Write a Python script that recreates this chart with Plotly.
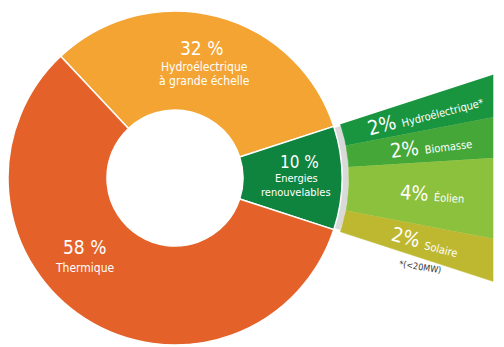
import numpy as np
import plotly.graph_objects as go

# ---------------- data ----------------
main_labels = ["Hydroélectrique à grande échelle", "Energies renouvelables", "Thermique"]
main_values = [32, 10, 58]
main_colors = ["#F4A433", "#0F843F", "#E4622A"]

fan_labels = ["Hydroélectrique*", "Biomasse", "Éolien", "Solaire"]
fan_values = [2, 2, 4, 2]
fan_colors = ["#19953F", "#45A737", "#8CC13D", "#BEB830"]

footnote = "*(<20MW)"

# ---------------- geometry (pixel units) ----------------
W, H = 504, 347
CX, CY = 175, H - 178          # donut centre (y measured upward)
R_OUT, R_IN = 167, 68          # donut radii
GRAY_R0, GRAY_R1 = 167, 173.5  # separator arc
FAN_R0, FAN_X = 174, 318       # fan inner radius / straight outer edge offset
FONT = "Liberation Sans Narrow, DejaVu Sans Condensed, Arial Narrow, Roboto, sans-serif"

total = sum(main_values)
green_span = main_values[1] / total * 360.0
half = green_span / 2.0

fig = go.Figure()

# main donut
hyd_deg = main_values[0] / total * 360.0
fig.add_trace(go.Pie(
    labels=main_labels, values=main_values, sort=False, direction="clockwise",
    rotation=90 - half - hyd_deg, hole=R_IN / R_OUT,
    marker=dict(colors=main_colors, line=dict(color="white", width=1.5)),
    textinfo="none", hoverinfo="label+percent", showlegend=False,
    domain=dict(x=[(CX - R_OUT) / W, (CX + R_OUT) / W],
                y=[(CY - R_OUT) / H, (CY + R_OUT) / H]),
))

# gray separator arc
ga = np.radians(np.linspace(-half + 0.6, half - 0.6, 40))
gx = np.concatenate([CX + GRAY_R0 * np.cos(ga), CX + GRAY_R1 * np.cos(ga[::-1])])
gy = np.concatenate([CY + GRAY_R0 * np.sin(ga), CY + GRAY_R1 * np.sin(ga[::-1])])
fig.add_trace(go.Scatter(x=gx, y=gy, fill="toself", mode="lines",
                         line=dict(width=0, color="#D9D9D9"), fillcolor="#D9D9D9",
                         hoverinfo="skip", showlegend=False))

# fan segments
fan_total = sum(fan_values)
a_top = half
annots = []
for lab, val, col in zip(fan_labels, fan_values, fan_colors):
    span = val / fan_total * green_span
    a_bot = a_top - span
    arc = np.radians(np.linspace(a_top, a_bot, 20))
    xs = list(CX + FAN_R0 * np.cos(arc)) + [CX + FAN_X, CX + FAN_X]
    ys = list(CY + FAN_R0 * np.sin(arc)) + [CY + FAN_X * np.tan(np.radians(a_bot)),
                                             CY + FAN_X * np.tan(np.radians(a_top))]
    fig.add_trace(go.Scatter(x=xs, y=ys, fill="toself", mode="lines",
                             line=dict(width=0.6, color=col), fillcolor=col,
                             name=lab, hoverinfo="name", showlegend=False))
    mid = (a_top + a_bot) / 2.0
    rr = 258
    annots.append(dict(
        x=CX + rr * np.cos(np.radians(mid)), y=CY + rr * np.sin(np.radians(mid)),
        text=f"{val}% <span style='font-size:11px'>{lab}</span>",
        textangle=-mid, font=dict(size=20, color="white", family=FONT),
        showarrow=False, xref="x", yref="y", xanchor="center", yanchor="middle"))
    a_top = a_bot

# main labels (text, x, y from top, size)
main_text = [
    (f"{main_values[0]} %", 201, 48, 19),
    ("Hydroélectrique", 204, 67, 12),
    ("à grande échelle", 204, 81, 12),
    (f"{main_values[2]} %", 84, 247, 19),
    ("Thermique", 85, 268, 12),
    (f"{main_values[1]} %", 299, 162, 17),
    ("Energies", 296, 178, 11),
    ("renouvelables", 296, 192, 11),
]
for t, x, y, s in main_text:
    annots.append(dict(x=x, y=H - y, text=t, showarrow=False, xref="x", yref="y",
                       font=dict(size=s, color="white", family=FONT),
                       xanchor="center", yanchor="middle"))

annots.append(dict(x=420, y=H - 267, text=footnote, showarrow=False, xref="x", yref="y",
                   textangle=9, font=dict(size=9, color="#333333", family=FONT),
                   xanchor="center", yanchor="middle"))

fig.update_layout(
    width=W, height=H, margin=dict(l=0, r=0, t=0, b=0, pad=0),
    paper_bgcolor="white", plot_bgcolor="white",
    xaxis=dict(range=[0, W], visible=False, fixedrange=True),
    yaxis=dict(range=[0, H], visible=False, fixedrange=True),
    annotations=annots, showlegend=False,
)

fig.write_html("out.html")
